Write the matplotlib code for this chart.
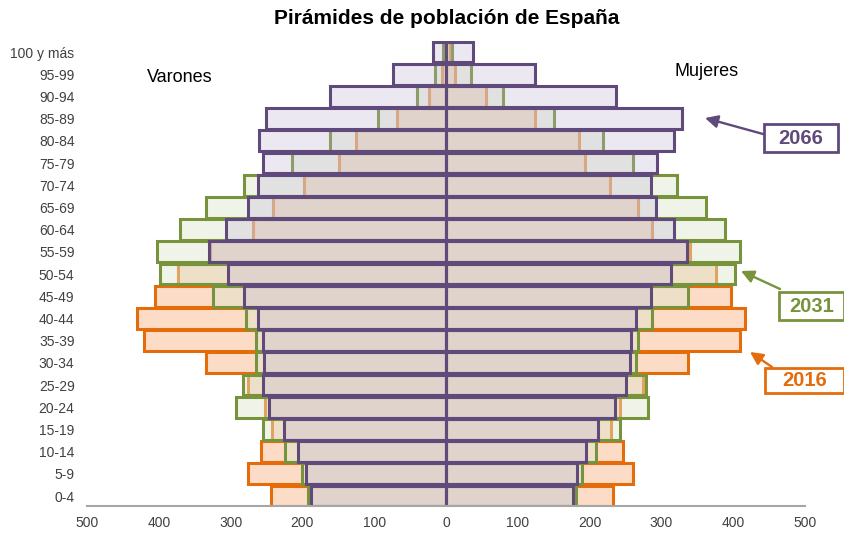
import matplotlib
matplotlib.use("Agg")
import matplotlib.pyplot as plt
from matplotlib.patches import Rectangle
from matplotlib.ticker import FuncFormatter

plt.rcParams['font.family'] = ['Liberation Sans', 'DejaVu Sans']

# age groups, bottom to top
ages = ['0-4', '5-9', '10-14', '15-19', '20-24', '25-29', '30-34', '35-39',
        '40-44', '45-49', '50-54', '55-59', '60-64', '65-69', '70-74',
        '75-79', '80-84', '85-89', '90-94', '95-99', '100 y más']

men_2016 = [244, 276, 258, 242, 252, 276, 334, 421, 431, 405, 373, 328, 269,
            241, 198, 149, 125, 68, 24, 6, 2]
men_2031 = [192, 200, 224, 255, 292, 283, 264, 264, 279, 325, 398, 402, 370,
            334, 281, 214, 161, 95, 41, 15, 4]
men_2066 = [188, 195, 206, 225, 246, 255, 254, 255, 262, 282, 303, 330, 306,
            276, 262, 255, 261, 251, 161, 74, 18]

women_2016 = [232, 261, 247, 230, 242, 274, 337, 410, 417, 397, 376, 340, 287,
              267, 229, 194, 185, 124, 56, 13, 6]
women_2031 = [181, 190, 209, 243, 281, 279, 265, 268, 287, 337, 403, 410, 388,
              362, 322, 260, 219, 150, 79, 35, 8]
women_2066 = [177, 183, 195, 212, 235, 251, 256, 257, 265, 285, 313, 336, 317,
              292, 285, 294, 317, 329, 237, 124, 37]

orange = '#e46c0a'
green = '#77933c'
purple = '#604a7b'

fig = plt.figure(figsize=(8.45, 5.33), dpi=100)
ax = fig.add_axes([87 / 845, 1 - 506 / 533, 718 / 845, (506 - 40.9) / 533])

y = list(range(len(ages)))
h = 0.93
lw = 2.2

# bottom layer: 2016 (opaque light fill), then 2031 and 2066 semi-transparent
layers = [
    (men_2016, women_2016, orange, (252 / 255, 220 / 255, 198 / 255, 1.0)),
    (men_2031, women_2031, green, (222 / 255, 231 / 255, 204 / 255, 0.45)),
    (men_2066, women_2066, purple, (192 / 255, 182 / 255, 212 / 255, 0.3)),
]
for z, (men, women, ec, fc) in enumerate(layers):
    ax.barh(y, [-v for v in men], height=h, color=[fc], edgecolor=ec,
            linewidth=lw, zorder=2 + z)
    ax.barh(y, women, height=h, color=[fc], edgecolor=ec,
            linewidth=lw, zorder=2 + z)

ax.set_xlim(-500, 500)
ax.set_ylim(-0.45, 20.5)
ax.set_xticks(range(-500, 501, 100))
ax.xaxis.set_major_formatter(FuncFormatter(lambda v, p: f'{abs(int(v))}'))
ax.set_yticks(y)
ax.set_yticklabels(ages)
ax.tick_params(axis='both', length=0, labelsize=10, colors='#404040')
ax.tick_params(axis='y', pad=9)
ax.tick_params(axis='x', pad=7)
for s in ['top', 'right', 'left']:
    ax.spines[s].set_visible(False)
ax.spines['bottom'].set_color('#a6a6a6')
ax.spines['bottom'].set_linewidth(1.5)
ax.spines['bottom'].set_zorder(10)


def fxy(px, py):
    return (px / 845, 1 - py / 533)


fig.text(*fxy(447, 18), 'Pirámides de población de España', ha='center',
         va='center', fontsize=15, fontweight='bold')
fig.text(*fxy(180, 78), 'Varones', ha='center', va='center', fontsize=13)
fig.text(*fxy(707, 72), 'Mujeres', ha='center', va='center', fontsize=13)

# year labels with boxes and arrows
boxes = [
    ('2066', purple, (764, 124, 838, 152), (763, 134), (705, 118)),
    ('2031', green, (779, 292, 844, 320), (780, 289), (741, 271)),
    ('2016', orange, (765, 368, 844, 393), (772, 367), (750, 352)),
]
for label, col, (x0, y0, x1, y1), start, end in boxes:
    bx, by = fxy(x0, y1)
    fig.patches.append(Rectangle((bx, by), (x1 - x0) / 845, (y1 - y0) / 533,
                                 transform=fig.transFigure, fill=False,
                                 edgecolor=col, linewidth=2))
    fig.text(*fxy((x0 + x1) / 2, (y0 + y1) / 2), label, ha='center',
             va='center', fontsize=14.5, fontweight='bold', color=col)
    ax.annotate('', xy=fxy(*end), xycoords='figure fraction',
                xytext=fxy(*start), textcoords='figure fraction',
                arrowprops=dict(arrowstyle='-|>', color=col, lw=1.7,
                                mutation_scale=19, shrinkA=0, shrinkB=0))

fig.savefig('out.png', dpi=100)
